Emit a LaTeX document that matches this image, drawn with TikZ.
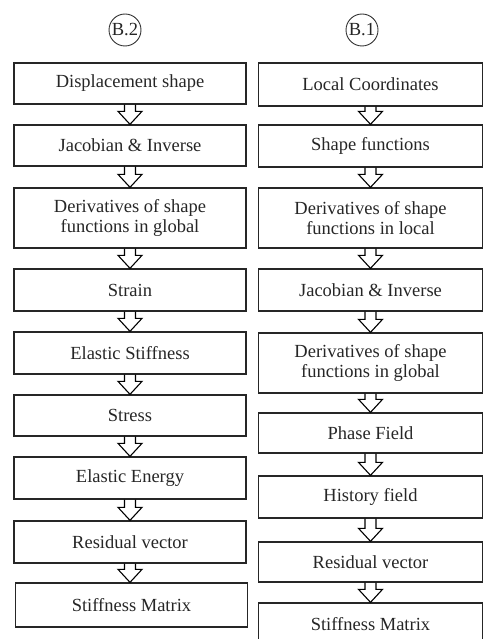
\documentclass[tikz,border=0pt]{standalone}
\usepackage{fontspec}
\setmainfont{Liberation Serif}
\usetikzlibrary{calc}

\begin{document}
\begin{tikzpicture}[x=1pt, y=-1pt, every node/.style={font=\fontsize{18.5}{20.5}\selectfont, text=black!85},
	stepbox/.style={draw=black!85, line width=1.3pt, align=center, inner sep=0pt},
	tagcircle/.style={draw=black!80, line width=0.9pt, circle, minimum size=32pt, inner sep=0pt},
	hollow/.style={draw=black, line width=1.1pt, line join=miter}]
	\clip (0,0) rectangle (483,639);
	\node[tagcircle] (b2) at (125,30) {B.2};
	\node[tagcircle] (b1) at (362,30) {B.1};
	\foreach \n/\x/\y/\h/\t in {1/130/83.5/41pt/Displacement shape, 2/130/145.5/41pt/Jacobian \& Inverse,
		3/130/218/60pt/{Derivatives of shape\\functions in global}, 4/130/290/42pt/Strain, 5/130/353/42pt/Elastic Stiffness,
		6/130/415.5/41pt/Stress, 7/130/478/42pt/Elastic Energy, 8/130/542/42pt/Residual vector, 9/131.5/605/44pt/Stiffness Matrix}
		\node[stepbox, minimum width=232pt, minimum height=\h] (l\n) at (\x,\y) {\t};
	\foreach \n/\y/\h/\t in {1/84.5/43pt/Local Coordinates, 2/146/42pt/Shape functions,
		3/218/60pt/{Derivatives of shape\\functions in local}, 4/290/42pt/Jacobian \& Inverse,
		5/363/60pt/{Derivatives of shape\\functions in global}, 6/433/40pt/Phase Field, 7/497/42pt/History field,
		8/562/40pt/Residual vector, 9/624/42pt/Stiffness Matrix}
		\node[stepbox, minimum width=224pt, minimum height=\h] (r\n) at (370.5,\y) {\t};
	\foreach \a/\b in {l1/l2, l2/l3, l3/l4, l4/l5, l5/l6, l6/l7, l7/l8, l8/l9,
		r1/r2, r2/r3, r3/r4, r4/r5, r5/r6, r6/r7, r7/r8, r8/r9}
		\draw[hollow] let \p1=(\a.south), \p2=(\b.north) in (\x1-5.5pt,\y1) -- (\x1-5.5pt,\y2+13pt) -- (\x1-12pt,\y2+13pt)
			-- (\x1,\y2) -- (\x1+12pt,\y2+13pt) -- (\x1+5.5pt,\y2+13pt) -- (\x1+5.5pt,\y1);
\end{tikzpicture}
\end{document}
